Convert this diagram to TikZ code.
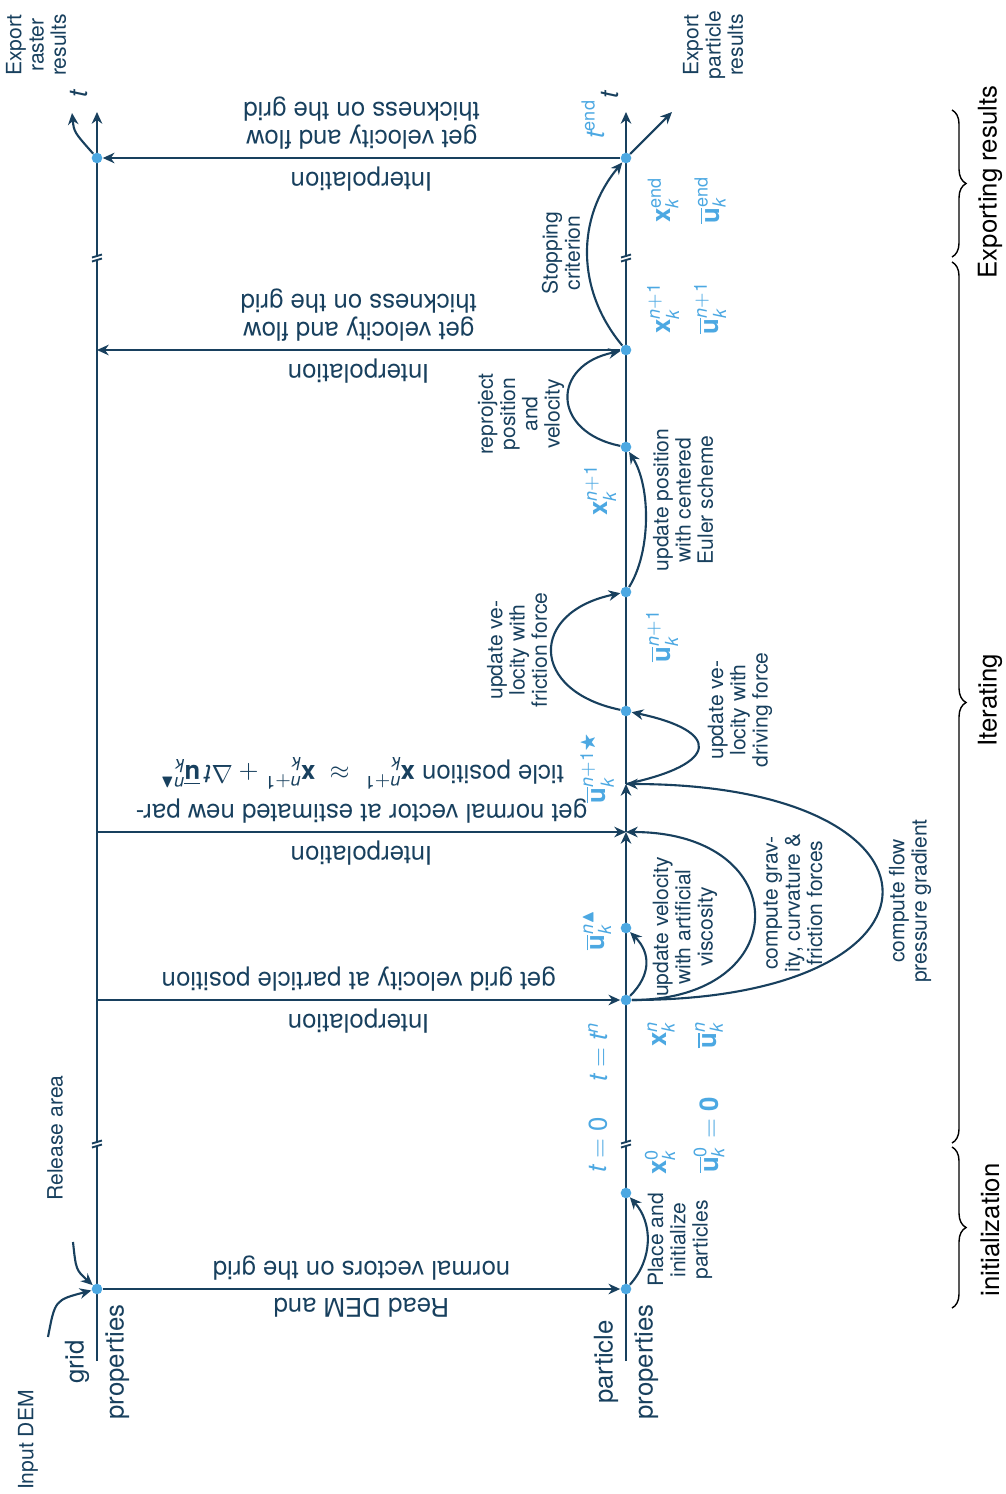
\documentclass[tikz,border=0pt]{standalone}
\usepackage{amsmath,amssymb}
\usepackage{fontspec}
\setmainfont{TeX Gyre Heros}
\usetikzlibrary{arrows.meta,decorations.pathreplacing}

\definecolor{navy}{RGB}{24,64,94}
\definecolor{sky}{RGB}{76,168,226}

\newcommand{\vx}{\mathbf{x}}
\newcommand{\vu}{\overline{\mathbf{u}}}
\newcommand{\idxk}{\text{\itshape k}}
\newcommand{\idxn}{\text{\itshape n}}
\newcommand{\tvar}{\text{\itshape t}}
\newcommand{\one}{\text{1}}
\newcommand{\zero}{\text{0}}

\tikzset{
  axis/.style={draw=navy, line width=0.9pt},
  link/.style={draw=navy, line width=0.9pt, -{Stealth[length=5pt,width=4.5pt]}},
  dot/.style={circle, fill=sky, inner sep=0pt, minimum size=1.6mm},
  lab/.style={text=navy, font=\fontsize{11}{12}\selectfont, align=center},
  flip/.style={lab, rotate=180},
  note/.style={text=navy, font=\fontsize{9}{9.5}\selectfont, align=center, rotate=90},
  sym/.style={text=sky, font=\fontsize{11}{12}\selectfont, rotate=90},
  phase/.style={text=black, font=\fontsize{11}{12}\selectfont, rotate=90},
  brc/.style={draw=black, line width=0.6pt, decorate, decoration={brace, amplitude=6pt}},
}

\begin{document}
\begin{tikzpicture}[x=0.15mm, y=-0.15mm]
  \useasboundingbox (0,0) rectangle (1006,1494);

  % --- time axis points ---
  \coordinate (g0) at (97,1361);
  \coordinate (g1) at (97,1289);
  \coordinate (gb1) at (97,1144);
  \coordinate (g3) at (97,1000);
  \coordinate (g5) at (97,832);
  \coordinate (g10) at (97,350);
  \coordinate (gb2) at (97,258);
  \coordinate (g11) at (97,158);
  \coordinate (gtop) at (97,112);

  \coordinate (p0) at (626,1361);
  \coordinate (p1) at (626,1289);
  \coordinate (p2) at (626,1193);
  \coordinate (pb1) at (626,1144);
  \coordinate (p3) at (626,1000);
  \coordinate (p4) at (626,928);
  \coordinate (p5) at (626,832);
  \coordinate (p6) at (626,784);
  \coordinate (p7) at (626,711);
  \coordinate (p8) at (626,592);
  \coordinate (p9) at (626,447);
  \coordinate (p10) at (626,350);
  \coordinate (pb2) at (626,258);
  \coordinate (p11) at (626,158);
  \coordinate (ptop) at (626,112);

  \coordinate (dem) at (48,1337);
  \coordinate (rel) at (73,1242);
  \coordinate (rast) at (72,113);
  \coordinate (pexp) at (672,112);

  % --- axes ---
  \draw[axis] (g0) -- (g11);
  \draw[link] (g11) -- (gtop);
  \draw[axis] (p0) -- (p3);
  \draw[link] (p3) -- (p5);
  \draw[link] (p5) -- (p6);
  \draw[axis] (p6) -- (p11);
  \draw[link] (p11) -- (ptop);

  % --- axis breaks ---
  \foreach \b in {gb1,gb2,pb1,pb2}{
    \fill[white] ([shift={(-5,3.5)}]\b) -- ([shift={(5,0.5)}]\b)
      -- ([shift={(5,-3.5)}]\b) -- ([shift={(-5,-0.5)}]\b) -- cycle;
    \draw[navy, line width=0.8pt] ([shift={(-5,3.5)}]\b) -- ([shift={(5,0.5)}]\b)
      ([shift={(-5,-0.5)}]\b) -- ([shift={(5,-3.5)}]\b);
  }

  % --- dots ---
  \node[dot] (dg1) at (g1) {};
  \node[dot] (dg11) at (g11) {};
  \foreach \i in {1,2,3,4,7,8,9,10,11}
    \node[dot] (d\i) at (p\i) {};

  % --- interpolation arrows ---
  \draw[link] (dg1) -- (d1)
        node[flip, midway, anchor=south] {Read DEM and}
        node[flip, midway, anchor=north] {normal vectors on the grid};
  \draw[link] (g3) -- (d3)
        node[flip, midway, anchor=south] {Interpolation}
        node[flip, midway, anchor=north] {get grid velocity at particle position};
  \draw[link] (g5) -- (p5)
        node[flip, midway, anchor=south] {Interpolation}
        node[flip, midway, anchor=north] {get normal vector at estimated new par-\\[3pt]ticle position
          $\vx_{\idxk}^{\idxn+\one} \;\approx\; \vx_{\idxk}^{\idxn+\one} + \Delta\tvar\,\vu_{\idxk}^{\idxn\blacktriangle}$};
  \draw[link] (d10) -- (g10)
        node[flip, midway, anchor=south] {Interpolation}
        node[flip, midway, anchor=north] {get velocity and flow\\thickness on the grid};
  \draw[link] (d11) -- (dg11)
        node[flip, midway, anchor=south] {Interpolation}
        node[flip, midway, anchor=north] {get velocity and flow\\thickness on the grid};

  % --- particle steps ---
  \draw[link] (d1) .. controls +(27,-30) and +(27,30) .. (d2);
  \draw[link] (d3) .. controls +(25,-25) and +(25,25) .. (d4);
  \draw[link] (d3) .. controls +(170,0) and +(170,0) .. (p5);
  \draw[link] (d3) .. controls +(340,0) and +(340,0) .. (p6);
  \draw[link] (p6) .. controls +(95,-20) and +(95,20) .. (d7);
  \draw[link] (d7) .. controls +(-97,-20) and +(-97,20) .. (d8);
  \draw[link] (d8) .. controls +(25,-40) and +(25,40) .. (d9);
  \draw[link] (d9) .. controls +(-75,-15) and +(-75,15) .. (d10);
  \draw[link] (d10) .. controls +(-50,-60) and +(-50,60) .. (d11);

  % --- inputs and outputs ---
  \draw[link] (dem) .. controls +(7,-37) .. (dg1);
  \draw[link] (rel) .. controls +(3,28) .. (dg1);
  \draw[link] (dg11) .. controls +(-23,-26) .. (rast);
  \draw[link] (d11) -- (pexp);

  % --- step labels ---
  \node[note] (place) at (680,1240) {Place and\\initialize\\particles};
  \node[note] (visc) at (685,927) {update velocity\\with artificial\\viscosity};
  \node[note] (grav) at (793,903) {compute grav-\\ity, curvature \&\\friction forces};
  \node[note] (press) at (910,901) {compute flow\\pressure gradient};
  \node[note] (drive) at (740,710) {update ve-\\locity with\\driving force};
  \node[note] (fric) at (517,650) {update ve-\\locity with\\friction force};
  \node[note] (euler) at (683,500) {update position\\with centered\\Euler scheme};
  \node[note] (repro) at (521,414) {reproject\\position\\and\\velocity};
  \node[note] (stop) at (561,253) {Stopping\\criterion};
  \node[note] (pout) at (713,45) {Export\\particle\\results};
  \node[note] (rout) at (36,45) {Export\\raster\\results};
  \node[note] (relname) at (55,1138) {Release area};
  \node[note] (demname) at (28,1440) {Input DEM};
  \node[lab, rotate=90] (gridname) at (97,1362) {grid\\[5pt]properties};
  \node[lab, rotate=90] (partname) at (626,1362) {particle\\[5pt]properties};
  \node[lab, rotate=90] (tg) at (79,94) {$\tvar$};
  \node[lab, rotate=90] (tp) at (610,95) {$\tvar$};

  % --- particle quantities ---
  \node[sym] (tzero) at (598,1145) {$\tvar = \zero$};
  \node[sym] (tn) at (598,1052) {$\tvar = \tvar^{\idxn}$};
  \node[sym] (x0) at (660,1162) {$\vx_{\idxk}^{\zero}$};
  \node[sym] (u0) at (709,1135) {$\vu_{\idxk}^{\zero} = \text{\bfseries 0}$};
  \node[sym] (xn) at (661,1034) {$\vx_{\idxk}^{\idxn}$};
  \node[sym] (un) at (709,1035) {$\vu_{\idxk}^{\idxn}$};
  \node[sym] (utri) at (597,930) {$\vu_{\idxk}^{\idxn\blacktriangle}$};
  \node[sym] (ustar) at (597,768) {$\vu_{\idxk}^{\idxn+\one\bigstar}$};
  \node[sym] (unew) at (662,636) {$\vu_{\idxk}^{\idxn+\one}$};
  \node[sym] (xnew) at (600,490) {$\vx_{\idxk}^{\idxn+\one}$};
  \node[sym] (xlast) at (663,308) {$\vx_{\idxk}^{\idxn+\one}$};
  \node[sym] (ulast) at (710,308) {$\vu_{\idxk}^{\idxn+\one}$};
  \node[sym] (xend) at (663,200) {$\vx_{\idxk}^{\text{end}}$};
  \node[sym] (uend) at (710,200) {$\vu_{\idxk}^{\text{end}}$};
  \node[sym] (tend) at (593,119) {$\tvar^{\text{end}}$};

  % --- phases ---
  \draw[brc] (952,1147) -- (952,1308);
  \draw[brc] (952,262) -- (952,1143);
  \draw[brc] (952,110) -- (952,257);
  \node[phase] (init) at (990,1230) {initialization};
  \node[phase] (iter) at (990,700) {Iterating};
  \node[phase] (expo) at (990,182) {Exporting results};

\end{tikzpicture}
\end{document}
